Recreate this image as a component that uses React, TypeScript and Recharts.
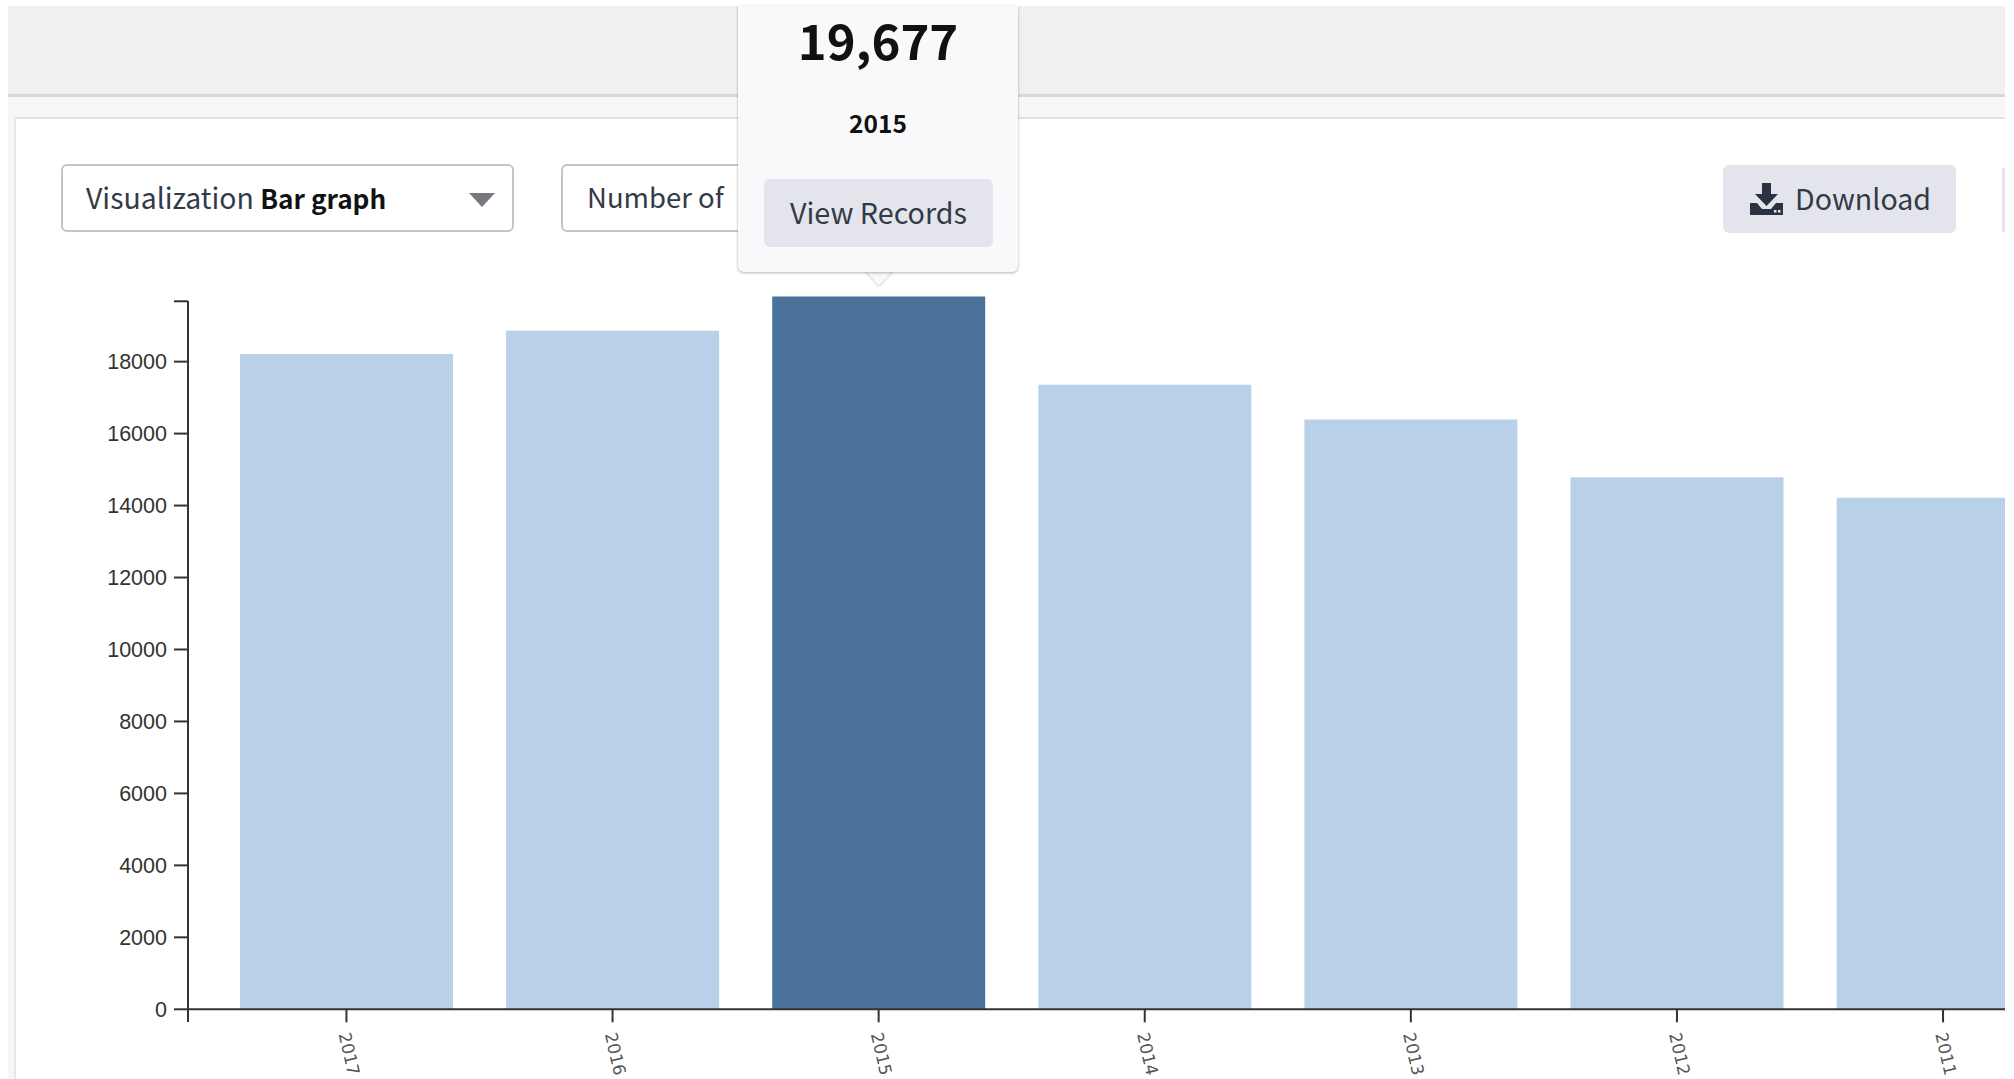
import { BarChart, Bar, Cell, XAxis, YAxis } from "recharts";

// ─── Data ─────────────────────────────────────────────────────────────────────

const YEARS = ["2017", "2016", "2015", "2014", "2013", "2012", "2011"];
// heights as drawn; the hovered 2015 bar is drawn a little above its 19,677 label
const RECORDS = [18215, 18860, 19810, 17360, 16395, 14790, 14220];
const Y_TICKS = [0, 2000, 4000, 6000, 8000, 10000, 12000, 14000, 16000, 18000, 19677];
const ACTIVE_YEAR = "2015";
const ACTIVE_COUNT = "19,677";

const chartData = YEARS.map((year, i) => ({ year, records: RECORDS[i] }));

const UI_FONT = '"Noto Sans CJK SC", "Noto Sans", sans-serif';
const AXIS_COLOR = "#333";

// ─── Ticks ────────────────────────────────────────────────────────────────────

function YearTick({ x, payload }: { x?: number; payload?: { value: string } }) {
  const tx = (x ?? 0) - 3;
  const ty = 1033;
  return (
    <text
      x={tx}
      y={ty}
      transform={`rotate(77 ${tx} ${ty})`}
      textAnchor="start"
      dominantBaseline="middle"
      fontFamily='"DejaVu Sans", sans-serif'
      fontSize={17}
      fill="#555"
    >
      {payload?.value}
    </text>
  );
}

// ─── Page chrome ──────────────────────────────────────────────────────────────

function box(left: number, top: number, width: number, height: number): React.CSSProperties {
  return { position: "absolute", left, top, width, height, boxSizing: "border-box" };
}

function centered(top: number, height: number): React.CSSProperties {
  return { position: "absolute", left: 0, right: 0, top, height, lineHeight: `${height}px`, textAlign: "center" };
}

function Chrome() {
  return (
    <>
      <div style={{ ...box(8, 6, 1997, 88), background: "#f0f0f0" }} />
      <div style={{ ...box(8, 94, 1997, 3), background: "#d8d8d8" }} />
      <div style={{ ...box(8, 97, 1997, 982), background: "#f7f7f7" }} />
      <div style={{ ...box(14, 117, 1991, 962), background: "#fff", borderTop: "2px solid #e2e2e2", borderLeft: "2px solid #e8e8e8" }} />

      <div style={{ ...box(61, 164, 453, 68), border: "2px solid #c4c4c4", borderRadius: 6, background: "#fff" }} />
      <div style={{ ...box(86, 164, 370, 68), lineHeight: "66px", fontSize: 28.4, color: "#333a47", whiteSpace: "nowrap" }}>
        Visualization <b style={{ color: "#111", fontSize: 26.2 }}>Bar graph</b>
      </div>
      <svg style={box(469, 193, 26, 14)} viewBox="0 0 26 14">
        <polygon points="0,0 26,0 13,14" fill="#77777f" />
      </svg>

      {/* second dropdown runs on underneath the popover */}
      <div style={{ ...box(561, 164, 340, 68), border: "2px solid #c4c4c4", borderRadius: 6, background: "#fff" }} />
      <div style={{ ...box(587, 164, 148, 68), lineHeight: "64px", fontSize: 27.5, color: "#333a47", whiteSpace: "nowrap" }}>
        Number of
      </div>

      <div style={{ ...box(1723, 165, 233, 68), background: "#e4e5ec", borderRadius: 6 }} />
      <svg style={box(1750, 183, 33, 32)} viewBox="0 0 33 32">
        <path d="M12 0h9v11h7L16.500 23 5 11h7z" fill="#2b3342" />
        <path d="M0 20h7l5 6h9l5-6h7v12H0z" fill="#2b3342" />
        <rect x="24" y="27" width="2.500" height="2.500" fill="#e4e5ec" />
        <rect x="28" y="27" width="2.500" height="2.500" fill="#e4e5ec" />
      </svg>
      <div style={{ ...box(1795, 165, 150, 68), lineHeight: "65px", fontSize: 28.6, color: "#333a47" }}>Download</div>
      <div style={{ ...box(2002, 168, 3, 64), background: "#e4e5ec" }} />
    </>
  );
}

function Popover() {
  return (
    <>
      <svg style={{ ...box(865, 270, 28, 17), filter: "drop-shadow(0 1px 1px rgba(0,0,0,.2))" }} viewBox="0 0 28 17">
        <polygon points="0,0 28,0 14,16" fill="#f9f9fc" />
      </svg>
      <div
        style={{
          ...box(738, 6, 280, 266),
          background: "#f9f9fc",
          borderRadius: "0 0 6px 6px",
          boxShadow: "0 1px 3px rgba(0,0,0,.3)",
        }}
      >
        <div style={{ ...centered(0, 66), fontSize: 49, fontWeight: 700, color: "#111" }}>{ACTIVE_COUNT}</div>
        <div style={{ ...centered(98, 38), fontSize: 24.5, fontWeight: 700, color: "#111" }}>{ACTIVE_YEAR}</div>
        <div style={{ ...box(26, 173, 229, 68), background: "#e4e5ec", borderRadius: 6 }}>
          <div style={{ ...centered(0, 65), fontSize: 28.7, color: "#333a47" }}>View Records</div>
        </div>
      </div>
    </>
  );
}

// ─── App ──────────────────────────────────────────────────────────────────────

export default function App() {
  return (
    <div style={{ ...box(0, 0, 2005, 1079), overflow: "hidden", background: "#fff", fontFamily: UI_FONT }}>
      <Chrome />
      <div style={box(0, 0, 2089, 1079)}>
        <BarChart
          width={2089}
          height={1079}
          data={chartData}
          margin={{ top: 296.5, right: 12.9, bottom: 0, left: 0 }}
          barCategoryGap="10%"
        >
          <XAxis
            dataKey="year"
            height={69.7}
            padding={{ left: 25.4, right: 0 }}
            interval={0}
            tickSize={13}
            tick={<YearTick />}
            axisLine={{ stroke: AXIS_COLOR, strokeWidth: 2 }}
            tickLine={{ stroke: AXIS_COLOR, strokeWidth: 2 }}
          />
          <YAxis
            width={188}
            domain={[0, 19677]}
            ticks={Y_TICKS}
            interval={0}
            tickSize={14}
            tickMargin={7}
            tickFormatter={(v: number) => (v === 19677 ? "" : String(v))}
            tick={{ fill: "#333", fontSize: 21.500, fontFamily: '"Liberation Sans", sans-serif' }}
            axisLine={false}
            tickLine={{ stroke: AXIS_COLOR, strokeWidth: 2 }}
          />
          <Bar dataKey="records" isAnimationActive={false}>
            {chartData.map((d) => (
              <Cell key={d.year} fill={d.year === ACTIVE_YEAR ? "#4b7299" : "#b8d1e8"} />
            ))}
          </Bar>
        </BarChart>
      </div>
      {/* the y axis stops at the top tick, below the hovered bar, and runs past zero */}
      <div style={{ ...box(187, 301, 2, 721), background: AXIS_COLOR }} />
      <Popover />
    </div>
  );
}
